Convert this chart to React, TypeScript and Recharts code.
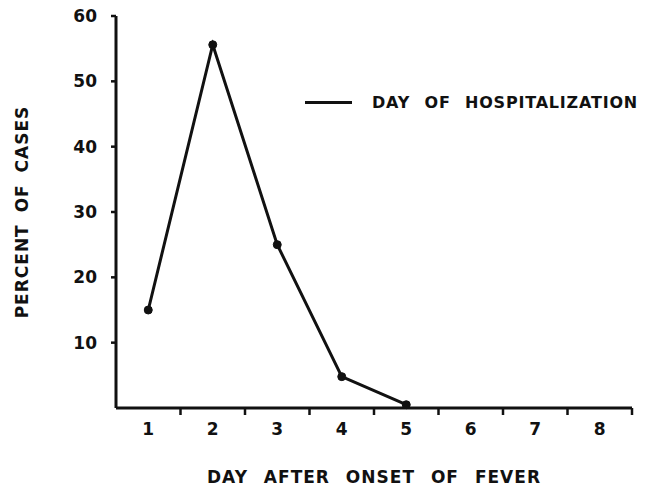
import React from "react";
import { LineChart, Line, XAxis, YAxis, Legend, Label } from "recharts";

const days = [1, 2, 3, 4, 5, 6, 7, 8];
const percentOfCases: (number | null)[] = [15, 55.6, 25, 4.8, 0.5, null, null, null];
const yTicks = [10, 20, 30, 40, 50, 60];
const xLabelTicks = [1, 2, 3, 4, 5, 6, 7, 8];
const xDividerTicks = [1.5, 2.5, 3.5, 4.5, 5.5, 6.5, 7.5, 8.5];
const seriesName = "DAY OF HOSPITALIZATION";
const xTitle = "DAY AFTER ONSET OF FEVER";
const yTitle = "PERCENT OF CASES";

const data = days.map((d, i) => ({ day: d, pct: percentOfCases[i] }));
const allXTicks = [...xLabelTicks, ...xDividerTicks].sort((a, b) => a - b);

const FONT = "'DejaVu Sans', sans-serif";
const INK = "#111";

const XTick = (props: any) => {
  const { x, y, payload } = props;
  const v = payload.value;
  if (Number.isInteger(v)) {
    return (
      <text x={x} y={y + 21} dy="0.36em" textAnchor="middle" fontFamily={FONT} fontWeight="bold" fontSize={17} fill={INK}>
        {v}
      </text>
    );
  }
  return <line x1={x} y1={y} x2={x} y2={y + 7} stroke={INK} strokeWidth={2.5} />;
};

const LegendContent = () => (
  <div style={{ display: "flex", alignItems: "center", fontFamily: FONT, fontWeight: "bold", fontSize: 16, color: INK, whiteSpace: "nowrap", letterSpacing: 0.8, wordSpacing: 8 }}>
    <span style={{ display: "inline-block", width: 47, height: 3, background: INK, marginRight: 20 }} />
    <span>{seriesName}</span>
  </div>
);

export default function App() {
  return (
    <div style={{ position: "absolute", left: 0, top: 0, background: "#fff" }}>
      <LineChart width={651} height={489} data={data} margin={{ top: 16, right: 19, bottom: 0, left: 0 }}>
        <XAxis
          dataKey="day"
          type="number"
          domain={[0.5, 8.5]}
          ticks={allXTicks}
          interval={0}
          tickLine={false}
          tickSize={0}
          tickMargin={0}
          tick={<XTick />}
          axisLine={{ stroke: INK, strokeWidth: 3 }}
          height={81}
        >
          <Label
            value={xTitle}
            position="insideBottom"
            offset={6}
            style={{ fontFamily: FONT, fontWeight: "bold", fontSize: 17, fill: INK, letterSpacing: 1, wordSpacing: 9 }}
          />
        </XAxis>
        <YAxis
          type="number"
          domain={[0, 60]}
          ticks={yTicks}
          interval={0}
          width={116}
          tickSize={5}
          tickMargin={14}
          tickLine={{ stroke: INK, strokeWidth: 2.5 }}
          axisLine={{ stroke: INK, strokeWidth: 3 }}
          tick={{ fontFamily: FONT, fontWeight: "bold", fontSize: 17, fill: INK }}
        >
          <Label
            value={yTitle}
            angle={-90}
            position="insideLeft"
            offset={22}
            style={{ textAnchor: "middle", fontFamily: FONT, fontWeight: "bold", fontSize: 17, fill: INK, letterSpacing: 1, wordSpacing: 5 }}
          />
        </YAxis>
        <Legend
          layout="horizontal"
          verticalAlign="middle"
          align="center"
          content={<LegendContent />}
          wrapperStyle={{ position: "absolute", left: 305, top: 93, width: "auto" }}
        />
        <Line
          type="linear"
          dataKey="pct"
          name={seriesName}
          stroke={INK}
          strokeWidth={3}
          dot={{ r: 4, fill: INK, stroke: INK, strokeWidth: 1 }}
          activeDot={false}
          connectNulls={false}
          isAnimationActive={false}
        />
      </LineChart>
    </div>
  );
}
